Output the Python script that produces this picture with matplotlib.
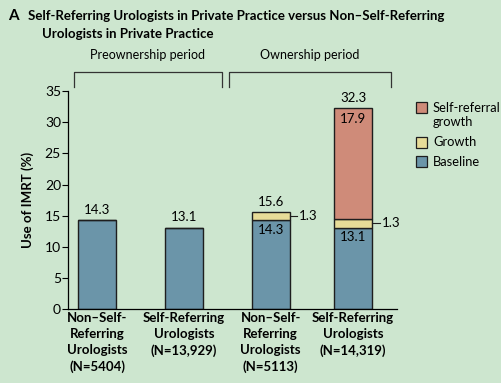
import matplotlib.pyplot as plt
from matplotlib.patches import Rectangle
import numpy as np

plt.rcParams['font.family'] = ['Lato', 'DejaVu Sans']

# data
groups = ['Non\u2013Self-\nReferring\nUrologists\n(N=5404)',
          'Self-Referring\nUrologists\n(N=13,929)',
          'Non\u2013Self-\nReferring\nUrologists\n(N=5113)',
          'Self-Referring\nUrologists\n(N=14,319)']
baseline = [14.3, 13.1, 14.3, 13.1]
growth = [0, 0, 1.3, 1.3]
self_ref = [0, 0, 0, 17.9]
totals = [14.3, 13.1, 15.6, 32.3]
legend_labels = ['Self-referral\ngrowth', 'Growth', 'Baseline']

bg = '#cde6cf'
c_base = '#6b95a9'
c_growth = '#e7dc98'
c_self = '#cf8b79'
edge = '#1e1e1e'

W, H = 501, 383
fig = plt.figure(figsize=(5.01, 3.83), dpi=100, facecolor=bg)
ax = fig.add_axes([0.1357, 0.193, 0.6567, 0.569], facecolor=bg)

x = np.array([0, 1.01, 2.02, 2.98])
w = 0.44
ax.bar(x, baseline, w, color=c_base, edgecolor=edge, lw=1)
ax.bar(x, growth, w, bottom=baseline, color=c_growth, edgecolor=edge, lw=1)
ax.bar(x[3], self_ref[3], w, bottom=baseline[3] + growth[3], color=c_self, edgecolor=edge, lw=1)

ax.set_xlim(-0.34, 3.49)
ax.set_ylim(0, 35)
ax.set_yticks(range(0, 36, 5))
ax.tick_params(axis='y', labelsize=10, length=4, width=0.8, pad=1)
ax.set_xticks(x)
ax.set_xticklabels(groups, fontweight='bold', fontsize=9.5, linespacing=1.42)
ax.tick_params(axis='x', length=0, pad=2)
for s in ['top', 'right']:
    ax.spines[s].set_visible(False)
ax.spines['left'].set_linewidth(0.9)
ax.spines['bottom'].set_linewidth(0.9)
ax.set_ylabel('Use of IMRT (%)', fontweight='bold', fontsize=9.5, labelpad=8)

# value labels
fs = 9.5
for i in range(4):
    ax.text(x[i], totals[i] + 0.7, f'{totals[i]:.1f}', ha='center', va='bottom', fontsize=fs)
ax.text(x[2], baseline[2] - 0.6, f'{baseline[2]:.1f}', ha='center', va='top', fontsize=fs)
ax.text(x[3], baseline[3] - 0.6, f'{baseline[3]:.1f}', ha='center', va='top', fontsize=fs)
ax.text(x[3], totals[3] - 0.8, f'{self_ref[3]:.1f}', ha='center', va='top', fontsize=fs)
for i in [2, 3]:
    ym = baseline[i] + growth[i] / 2
    ax.plot([x[i] + w / 2, x[i] + w / 2 + 0.09], [ym, ym], color=edge, lw=0.8, clip_on=False)
    ax.text(x[i] + w / 2 + 0.11, ym, f'{growth[i]:.1f}', ha='left', va='center', fontsize=fs)

# period brackets
def bracket(x0, x1, label):
    fig.add_artist(plt.Line2D([x0 / W, x0 / W, x1 / W, x1 / W],
                              [1 - 87 / H, 1 - 72 / H, 1 - 72 / H, 1 - 87 / H],
                              color='#333333', lw=0.9))
    fig.text((x0 + x1) / 2 / W, 1 - 55 / H, label, ha='center', va='center', fontsize=9)

bracket(74, 222, 'Preownership period')
bracket(229, 391, 'Ownership period')

# title
fig.text(8 / W, 1 - 16 / H, 'A', fontweight='bold', fontsize=11, va='center')
fig.text(28 / W, 1 - 16 / H, 'Self-Referring Urologists in Private Practice versus Non\u2013Self-Referring',
         fontweight='bold', fontsize=9.5, va='center')
fig.text(42 / W, 1 - 34 / H, 'Urologists in Private Practice',
         fontweight='bold', fontsize=9.5, va='center')

# legend, drawn by hand so the swatch sits on the first text line
for col, lab, top in zip([c_self, c_growth, c_base], legend_labels, [102, 137, 156]):
    fig.add_artist(Rectangle((416 / W, 1 - (top + 11) / H), 11 / W, 11 / H,
                             transform=fig.transFigure, facecolor=col, edgecolor=edge, lw=0.9))
    for k, line in enumerate(lab.split('\n')):
        fig.text(433 / W, 1 - (top + 5.5 + 15 * k) / H, line, fontsize=9.3,
                 va='center', ha='left')

fig.savefig('out.png', dpi=100, facecolor=bg)
